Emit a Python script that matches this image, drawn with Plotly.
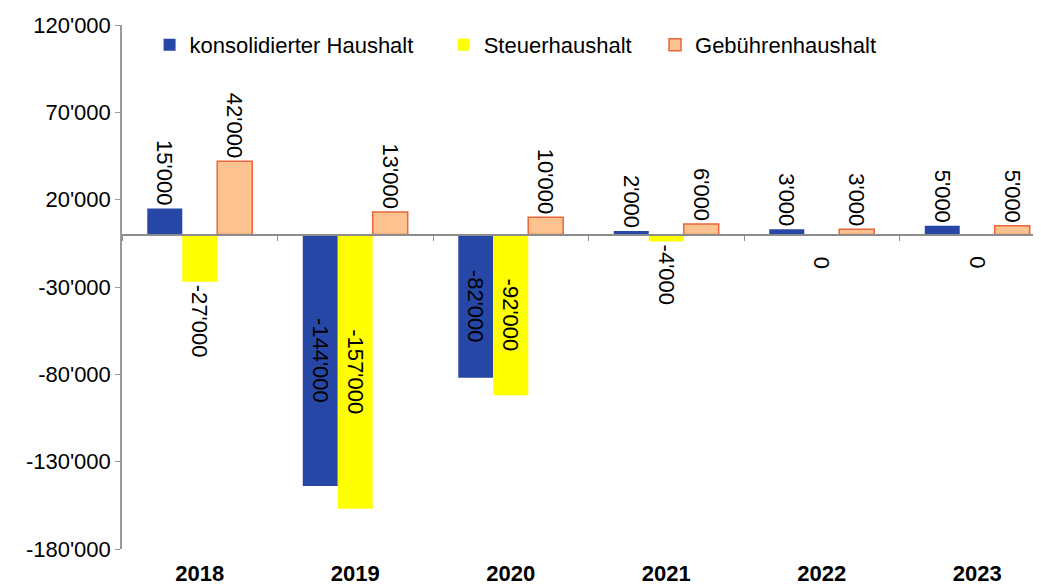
import plotly.graph_objects as go

years = ["2018", "2019", "2020", "2021", "2022", "2023"]
konsolidiert = [15000, -144000, -82000, 2000, 3000, 5000]
steuer = [-27000, -157000, -92000, -4000, 0, 0]
gebuehren = [42000, 13000, 10000, 6000, 3000, 5000]
series_names = ["konsolidierter Haushalt", "Steuerhaushalt", "Gebührenhaushalt"]
y_ticks = [-180000, -130000, -80000, -30000, 20000, 70000, 120000]


def fmt(v):
    return f"{v:,}".replace(",", "'")


def text_pos(v):
    if v == 0:
        return "none"
    if v < -50000:
        return "inside"
    return "outside"


FONT = "Arial, 'Liberation Sans', sans-serif"
FS = 22
fig = go.Figure()

specs = [
    (konsolidiert, series_names[0], "legend", dict(color="#2747A6", line=dict(width=0))),
    (steuer, series_names[1], "legend2", dict(color="#FFFF00", line=dict(width=0))),
    (gebuehren, series_names[2], "legend3",
     dict(color="#FCC28F", line=dict(color="#E8663A", width=1.5))),
]
for vals, name, lg, marker in specs:
    fig.add_trace(go.Bar(
        x=years, y=vals, name=name, legend=lg, marker=marker,
        text=[fmt(v) for v in vals], textposition=[text_pos(v) for v in vals],
        textangle=90, constraintext="none", cliponaxis=False,
        insidetextanchor="middle",
        textfont=dict(family=FONT, size=FS, color="#000000"),
        insidetextfont=dict(family=FONT, size=FS, color="#000000"),
        outsidetextfont=dict(family=FONT, size=FS, color="#000000"),
    ))

# labels for zero-valued bars (drawn just below the axis)
zero_idx = [i for i, v in enumerate(steuer) if v == 0]
fig.update_layout(annotations=[
    dict(x=i, y=steuer[i], xref="x", yref="y", text=fmt(steuer[i]), textangle=90,
         showarrow=False, yanchor="top", yshift=-20,
         font=dict(family="Arial", size=FS, color="#000000"))
    for i in zero_idx
])

leg = dict(orientation="h", yanchor="top", xanchor="left", y=1.002,
           bgcolor="rgba(0,0,0,0)", font=dict(family=FONT, size=FS, color="#000000"))

fig.update_layout(
    width=1033, height=579,
    margin=dict(l=114, r=0, t=17, b=38),
    paper_bgcolor="white", plot_bgcolor="white",
    barmode="group", bargap=0.325, bargroupgap=0,
    font=dict(family=FONT, size=FS, color="#000000"),
    showlegend=True,
    legend=dict(leg, x=0.030),
    legend2=dict(leg, x=0.350),
    legend3=dict(leg, x=0.580),
    xaxis=dict(type="category", range=[-0.5, 5.41], anchor="free", position=0.6,
               showline=True, linecolor="#8c8c8c", linewidth=1.5,
               ticks="outside", tickson="boundaries", ticklen=6, tickcolor="#8c8c8c",
               ticklabelstandoff=319, automargin=False,
               tickfont=dict(family=FONT, size=FS, color="#000000", weight="bold"),
               showgrid=False, zeroline=False),
    yaxis=dict(range=[-180000, 120000], tickvals=y_ticks,
               ticktext=[fmt(v) for v in y_ticks], automargin=False,
               showline=True, linecolor="#9a9a9a", linewidth=1.5, ticks="outside",
               ticklen=5, tickcolor="#9a9a9a", showgrid=False, zeroline=False,
               tickfont=dict(family=FONT, size=FS, color="#000000")),
)

fig.write_html("out.html")
